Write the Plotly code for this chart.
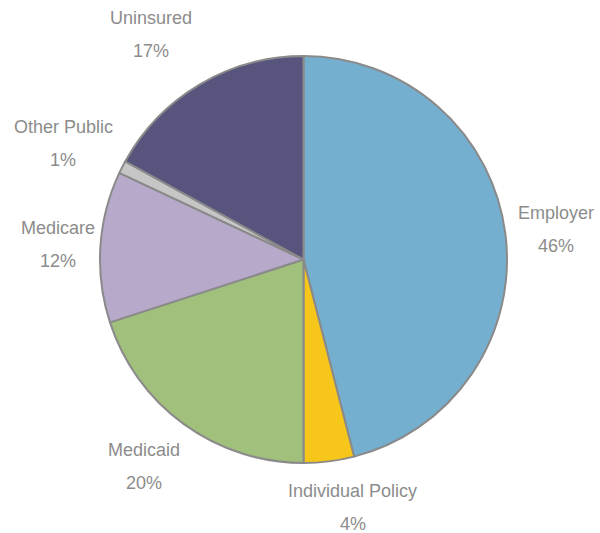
import math
import plotly.graph_objects as go

labels = ["Employer", "Individual Policy", "Medicaid", "Medicare", "Other Public", "Uninsured"]
values = [46, 4, 20, 12, 1, 17]
colors = ["#75AFCF", "#F6C61A", "#A0C07B", "#B6A9C9", "#C6C6C6", "#57547D"]

W, H = 600, 533
dom_x = [100 / W, 507 / W]
dom_y = [1 - 463 / H, 1 - 56 / H]

fig = go.Figure(go.Pie(
    labels=labels,
    values=values,
    sort=False,
    direction="clockwise",
    rotation=0,
    marker=dict(colors=colors, line=dict(color="#8A8A8A", width=2)),
    textinfo="none",
    hoverinfo="label+percent",
    showlegend=False,
    domain=dict(x=dom_x, y=dom_y),
))

# label placement derived from slice mid-angles (radial factor + small angle nudge)
cx = (dom_x[0] + dom_x[1]) / 2 * W
cy = (1 - (dom_y[0] + dom_y[1]) / 2) * H
R = (dom_x[1] - dom_x[0]) * W / 2
factors = [1.252, 1.242, 1.285, 1.211, 1.31, 1.337]
nudges = [0.4, -4.0, 1.7, 0.0, -1.2, -3.6]
total = sum(values)
cum = 0
font = dict(family="Liberation Sans, Arial, sans-serif", size=18, color="#8C8C8C")
for lab, v, f, n in zip(labels, values, factors, nudges):
    mid = (cum + v / 2) / total * 2 * math.pi + math.radians(n)
    cum += v
    px = cx + R * f * math.sin(mid)
    py = cy - R * f * math.cos(mid)
    pct = f"{round(v / total * 100)}%"
    for txt, shift in ((lab, 16.5), (pct, -16.5)):
        fig.add_annotation(
            x=px / W, y=1 - py / H, xref="paper", yref="paper",
            text=txt, showarrow=False, font=font,
            xanchor="center", yanchor="middle", yshift=shift,
        )

fig.update_layout(
    width=W, height=H,
    margin=dict(l=0, r=0, t=0, b=0),
    paper_bgcolor="white",
    plot_bgcolor="white",
)

fig.write_html("out.html")
